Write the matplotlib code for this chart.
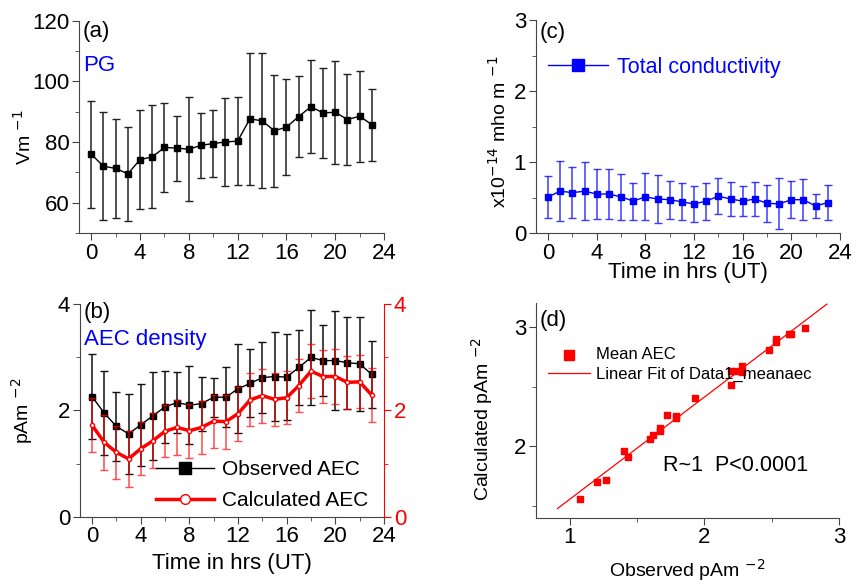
import numpy as np
import matplotlib
matplotlib.use("Agg")
import matplotlib.pyplot as plt
from matplotlib.lines import Line2D
from matplotlib.ticker import MultipleLocator

plt.rcParams['font.family'] = ['Liberation Sans', 'DejaVu Sans']

hours = np.arange(24)

# (a) potential gradient, V/m
pg = [76.0, 72.0, 71.3, 69.5, 74.2, 75.1, 78.2, 78.0, 77.6, 78.9, 79.5, 80.0,
      80.3, 87.6, 87.0, 83.7, 84.9, 88.4, 91.6, 89.6, 89.8, 87.4, 88.5, 85.7]
pg_sd = [17.6, 17.8, 16.2, 15.5, 16.4, 17.0, 14.6, 10.7, 17.1, 10.7, 11.2, 14.4,
         14.4, 21.9, 22.3, 18.4, 15.9, 13.4, 15.3, 14.9, 17.0, 14.9, 15.0, 11.9]

# (b) air-earth current density, pA/m2
aec_obs = [2.26, 1.95, 1.70, 1.56, 1.73, 1.90, 2.07, 2.15, 2.10, 2.13, 2.25, 2.25,
           2.41, 2.51, 2.62, 2.64, 2.63, 2.81, 3.00, 2.94, 2.94, 2.90, 2.88, 2.68]
aec_obs_sd = [0.80, 0.79, 0.65, 0.75, 0.77, 0.83, 0.68, 0.58, 0.73, 0.51, 0.37, 0.57,
              0.84, 0.64, 0.67, 0.83, 0.81, 0.71, 0.90, 0.67, 0.93, 0.87, 0.89, 0.63]
aec_calc = [1.72, 1.40, 1.21, 1.09, 1.28, 1.43, 1.61, 1.68, 1.62, 1.68, 1.80, 1.79,
            1.94, 2.20, 2.28, 2.21, 2.24, 2.47, 2.74, 2.64, 2.64, 2.53, 2.54, 2.29]
aec_calc_sd = [0.51, 0.52, 0.50, 0.53, 0.50, 0.52, 0.49, 0.51, 0.51, 0.50, 0.50, 0.51,
               0.51, 0.50, 0.51, 0.50, 0.50, 0.50, 0.51, 0.50, 0.51, 0.50, 0.50, 0.51]

# (c) total conductivity, x1e-14 mho/m
cond = [0.51, 0.59, 0.57, 0.59, 0.55, 0.55, 0.51, 0.45, 0.51, 0.48, 0.47, 0.44,
        0.41, 0.45, 0.52, 0.48, 0.45, 0.48, 0.42, 0.41, 0.47, 0.47, 0.38, 0.43]
cond_sd = [0.30, 0.42, 0.36, 0.41, 0.35, 0.35, 0.32, 0.26, 0.33, 0.34, 0.27, 0.26,
           0.25, 0.26, 0.25, 0.24, 0.21, 0.24, 0.26, 0.36, 0.26, 0.29, 0.17, 0.25]

# (d) observed vs calculated mean AEC
obs_mean = [1.08, 1.20, 1.27, 1.40, 1.43, 1.60, 1.62, 1.67, 1.67, 1.72, 1.79, 1.79,
            1.93, 2.20, 2.20, 2.23, 2.28, 2.28, 2.48, 2.53, 2.53, 2.63, 2.64, 2.75]
calc_mean = [1.56, 1.70, 1.72, 1.96, 1.91, 2.06, 2.09, 2.13, 2.15, 2.26, 2.24, 2.25,
             2.40, 2.51, 2.63, 2.63, 2.62, 2.67, 2.81, 2.90, 2.87, 2.94, 2.94, 2.99]
fit_range = [0.91, 2.91]

spine_col = '#444444'
fs = 16
lfs = 14


def style(ax, xmaj, ymaj, ymin_loc):
    for s in ['top', 'right']:
        ax.spines[s].set_visible(False)
    for s in ['left', 'bottom']:
        ax.spines[s].set_color(spine_col)
    ax.xaxis.set_major_locator(MultipleLocator(xmaj))
    ax.xaxis.set_minor_locator(MultipleLocator(xmaj / 2))
    ax.yaxis.set_major_locator(MultipleLocator(ymaj))
    ax.yaxis.set_minor_locator(MultipleLocator(ymin_loc))
    ax.tick_params(which='both', direction='out', color=spine_col, labelsize=fs, pad=2)
    ax.tick_params(which='major', length=5)
    ax.tick_params(which='minor', length=3)


fig = plt.figure(figsize=(8.57, 5.85), dpi=100)

# (a)
ax_a = fig.add_axes([0.0922, 0.6017, 0.356, 0.363])
ax_a.errorbar(hours, pg, yerr=pg_sd, fmt='-s', color='k', ms=4, lw=1,
              ecolor='#222222', elinewidth=1.1, capsize=3, capthick=1)
ax_a.set_xlim(-1, 24)
ax_a.set_ylim(50, 120)
style(ax_a, 4, 20, 10)
ax_a.set_ylabel('Vm $^{-1}$', fontsize=lfs)
ax_a.yaxis.set_label_coords(-0.144, 0.45)
ax_a.text(0.013, 0.947, '(a)', transform=ax_a.transAxes, fontsize=fs, va='center')
ax_a.text(0.013, 0.79, 'PG', transform=ax_a.transAxes, fontsize=fs, color='#0000ff', va='center')

# (b)
ax_b = fig.add_axes([0.0933, 0.1168, 0.3547, 0.363])
ax_b.errorbar(hours, aec_obs, yerr=aec_obs_sd, fmt='-s', color='k', ms=4, lw=1,
              ecolor='#111111', elinewidth=1.1, capsize=3, capthick=1, zorder=2)
ax_b.set_xlim(-1, 24)
ax_b.set_ylim(0, 4)
style(ax_b, 4, 2, 1)
ax_b2 = ax_b.twinx()
ax_b2.errorbar(hours, aec_calc, yerr=aec_calc_sd, fmt='-o', color='#ff0000', lw=2.5,
               ms=3, mfc='white', mec='#ff0000', ecolor=(1, 0, 0, 0.7),
               elinewidth=1.1, capsize=3, capthick=1)
ax_b2.set_ylim(0, 4)
ax_b2.yaxis.set_major_locator(MultipleLocator(2))
ax_b2.yaxis.set_minor_locator(MultipleLocator(1))
for s in ['top', 'left', 'bottom']:
    ax_b2.spines[s].set_visible(False)
ax_b2.spines['right'].set_color('#ff0000')
ax_b2.tick_params(which='both', direction='out', color='#ff0000', labelcolor='#ff0000',
                  labelsize=fs, pad=2)
ax_b2.tick_params(which='major', length=5)
ax_b2.tick_params(which='minor', length=3)
ax_b.set_ylabel('pAm $^{-2}$', fontsize=lfs)
ax_b.yaxis.set_label_coords(-0.148, 0.5)
ax_b.set_xlabel('Time in hrs (UT)', fontsize=fs, labelpad=4)
ax_b.text(0.013, 0.96, '(b)', transform=ax_b.transAxes, fontsize=fs, va='center')
ax_b.text(0.013, 0.832, 'AEC density', transform=ax_b.transAxes, fontsize=fs,
          color='#0000ff', va='center')
h_obs = Line2D([], [], color='k', lw=1, marker='s', ms=9)
h_calc = Line2D([], [], color='#ff0000', lw=2.5, marker='o', ms=7, mfc='white', mec='#ff0000')
ax_b2.legend([h_obs, h_calc], ['Observed AEC', 'Calculated AEC'], loc='lower right',
             bbox_to_anchor=(0.95, 0.03), frameon=False, fontsize=15, handlelength=2.8,
             borderaxespad=0, borderpad=0, labelspacing=0.6, handletextpad=0.4)

# (c)
ax_c = fig.add_axes([0.6254, 0.6017, 0.3547, 0.3634])
ax_c.errorbar(hours, cond, yerr=cond_sd, fmt='-s', color='#0000ff', ms=4, lw=1,
              ecolor=(0.1, 0.1, 1.0, 0.85), elinewidth=1.1, capsize=3, capthick=1,
              label='Total conductivity')
ax_c.set_xlim(-1, 24)
ax_c.set_ylim(0, 3)
style(ax_c, 4, 1, 0.5)
ax_c.set_ylabel('x10$^{-14}$ mho m $^{-1}$', fontsize=lfs)
ax_c.yaxis.set_label_coords(-0.086, 0.476)
ax_c.set_xlabel('Time in hrs (UT)', fontsize=fs, labelpad=-1)
ax_c.text(0.013, 0.945, '(c)', transform=ax_c.transAxes, fontsize=fs, va='center')
h_c = Line2D([], [], color='#0000ff', lw=1, marker='s', ms=9)
leg_c = ax_c.legend([h_c], ['Total conductivity'], loc='center left',
                    bbox_to_anchor=(0.04, 0.78), frameon=False, fontsize=15.5,
                    handlelength=2.8, handletextpad=0.4, borderaxespad=0, borderpad=0)
for t in leg_c.get_texts():
    t.set_color('#0000ff')

# (d)
ax_d = fig.add_axes([0.6254, 0.115, 0.3536, 0.367])
ax_d.scatter(obs_mean, calc_mean, marker='s', s=16, color='#ff0000', label='Mean AEC', zorder=3)
slope, icpt = np.polyfit(obs_mean, calc_mean, 1)
fx = np.array(fit_range)
ax_d.plot(fx, slope * fx + icpt, color='#ff0000', lw=0.9, label='Linear Fit of Data1_meanaec')
ax_d.set_xlim(0.75, 3)
ax_d.set_ylim(1.4, 3.2)
style(ax_d, 1, 1, 0.5)
ax_d.set_xlabel('Observed pAm $^{-2}$', fontsize=lfs, labelpad=6)
ax_d.set_ylabel('Calculated pAm $^{-2}$', fontsize=lfs)
ax_d.yaxis.set_label_coords(-0.135, 0.46)
ax_d.text(0.013, 0.92, '(d)', transform=ax_d.transAxes, fontsize=fs, va='center')
ax_d.text(0.42, 0.245, 'R~1  P<0.0001', transform=ax_d.transAxes, fontsize=15.5, va='center')
ax_d.legend(loc='upper left', bbox_to_anchor=(0.04, 0.795), frameon=False, fontsize=12,
            handlelength=2.5, handletextpad=0.4, scatterpoints=1, labelspacing=0.3,
            markerscale=1.7, borderaxespad=0, borderpad=0)

fig.savefig('out.png', dpi=100)
